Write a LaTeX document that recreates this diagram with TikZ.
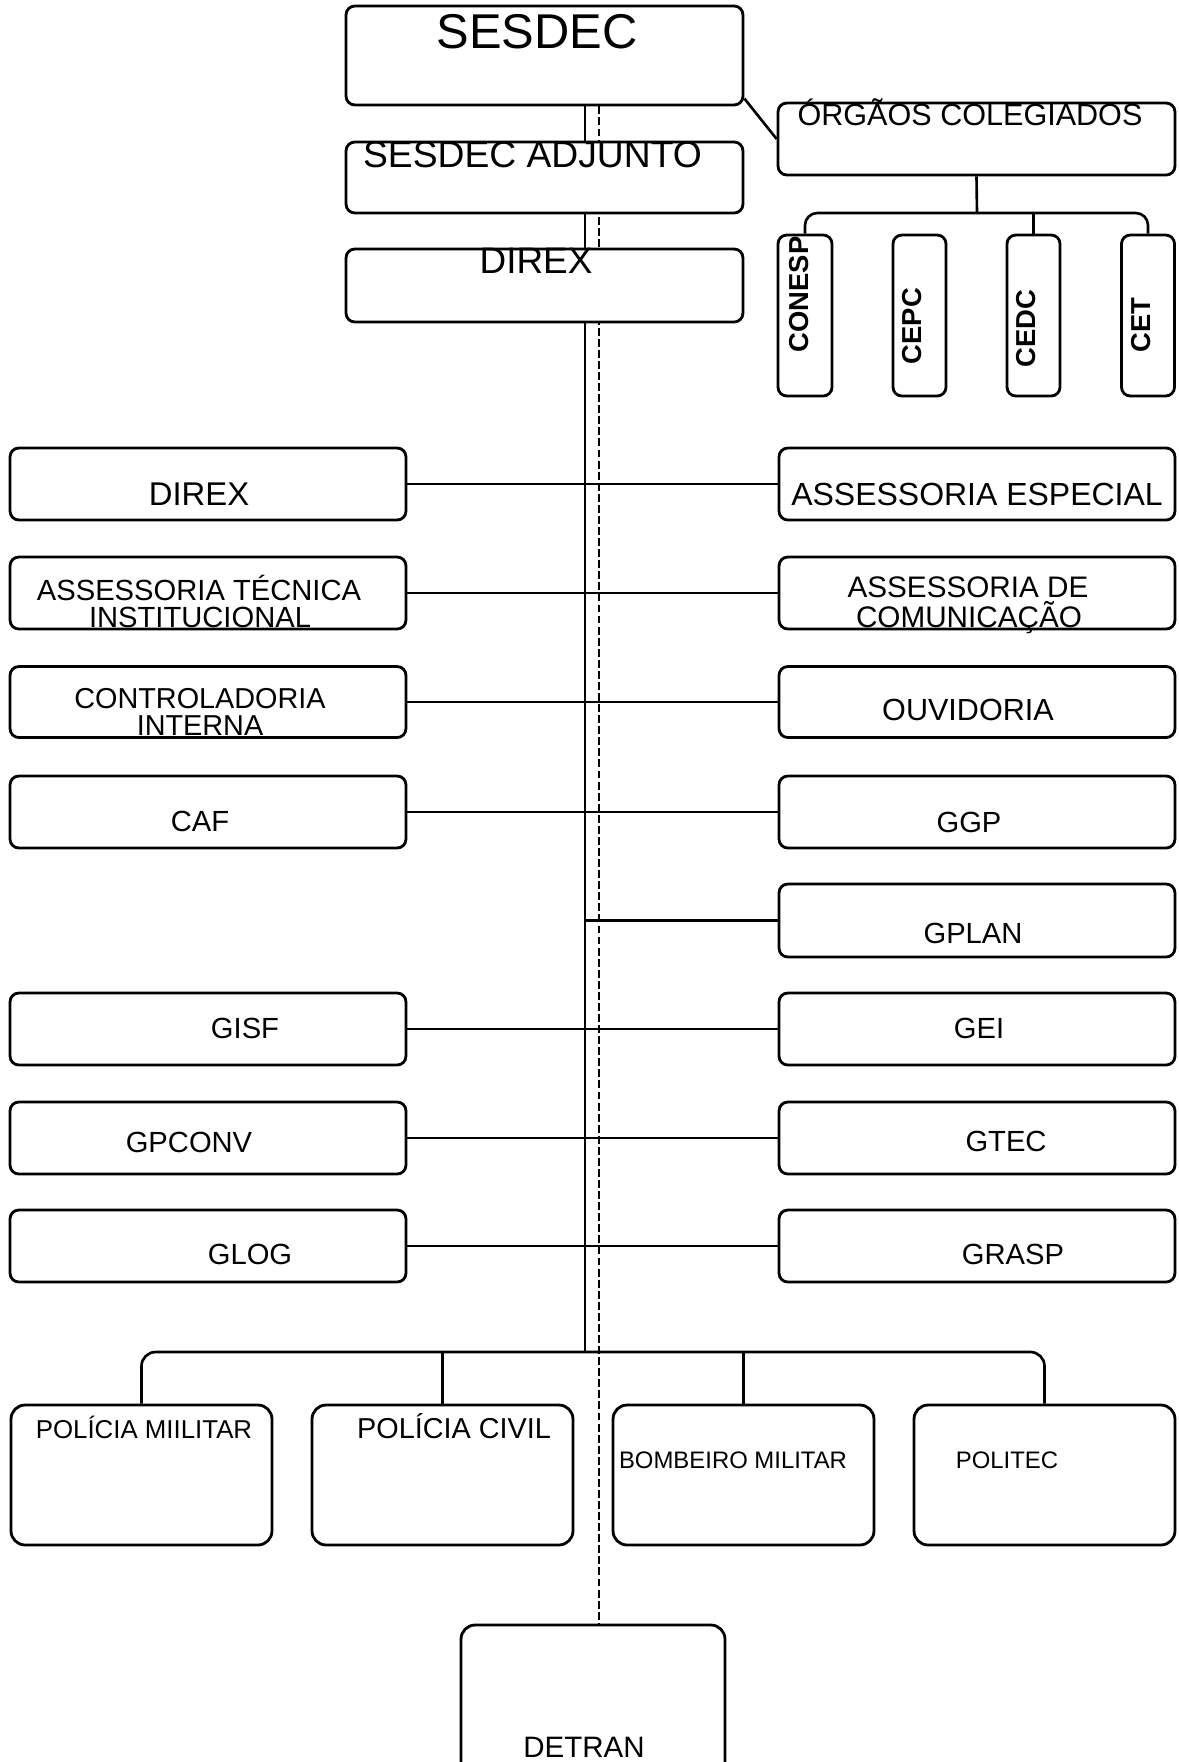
\documentclass[tikz,border=0pt]{standalone}
\usepackage{fontspec}
\setmainfont{Liberation Sans}
\usetikzlibrary{backgrounds}

\newcommand{\fsz}[1]{\fontsize{#1}{#1}\selectfont}

\tikzset{
  unit/.style={draw, line width=1.6pt, rounded corners=5pt, fill=white, inner sep=0pt},
  bigunit/.style={unit, rounded corners=8pt},
  tag/.style={anchor=base, inner sep=0pt},
  link/.style={line width=1.5pt},
  dashlink/.style={line width=1.4pt, dash pattern=on 4.5pt off 1.8pt},
}

\begin{document}
\begin{tikzpicture}[x=0.02cm, y=-0.02cm]
    \useasboundingbox (0,0) rectangle (1179,1762);

    % Top chain
    \node[unit, minimum width=7.94cm, minimum height=1.98cm] (sesdec) at (544.5,55.5) {};
    \node[unit, minimum width=7.94cm, minimum height=1.42cm] (adjunto) at (544.5,177.5) {};
    \node[unit, minimum width=7.94cm, minimum height=1.46cm] (direxTop) at (544.5,285.5) {};
    \node[tag, font=\fsz{27.8}] (sesdecT) at (537,48) {SESDEC};
    \node[tag, font=\fsz{21.2}] (adjuntoT) at (532.5,167) {SESDEC ADJUNTO};
    \node[tag, font=\fsz{21}] (direxTopT) at (536,273) {DIREX};

    % Collegiate bodies
    \node[unit, minimum width=7.94cm, minimum height=1.44cm] (orgaos) at (976.5,139) {};
    \node[tag, font=\fsz{17.4}] (orgaosT) at (970,125) {ÓRGÃOS COLEGIADOS};
    \node[unit, minimum width=1.08cm, minimum height=3.22cm] (conesp) at (805,315.5) {};
    \node[unit, minimum width=1.06cm, minimum height=3.22cm] (cepc) at (919.5,315.5) {};
    \node[unit, minimum width=1.06cm, minimum height=3.22cm] (cedc) at (1033.5,315.5) {};
    \node[unit, minimum width=1.06cm, minimum height=3.22cm] (cet) at (1148,315.5) {};
    \node[rotate=90, inner sep=0pt, font=\bfseries\fsz{15.6}] (conespT) at (799,294.5) {CONESP};
    \node[rotate=90, inner sep=0pt, font=\bfseries\fsz{15.6}] (cepcT) at (912.5,326) {CEPC};
    \node[rotate=90, inner sep=0pt, font=\bfseries\fsz{15.6}] (cedcT) at (1026.5,328.5) {CEDC};
    \node[rotate=90, inner sep=0pt, font=\bfseries\fsz{15.6}] (cetT) at (1141,325) {CET};

    % Left column
    \node[unit, minimum width=7.92cm, minimum height=1.44cm] (direxL) at (208,484) {};
    \node[unit, minimum width=7.92cm, minimum height=1.44cm] (ati) at (208,593) {};
    \node[unit, minimum width=7.92cm, minimum height=1.42cm] (ci) at (208,702) {};
    \node[unit, minimum width=7.92cm, minimum height=1.44cm] (caf) at (208,812) {};
    \node[unit, minimum width=7.92cm, minimum height=1.44cm] (gisf) at (208,1029) {};
    \node[unit, minimum width=7.92cm, minimum height=1.44cm] (gpconv) at (208,1138) {};
    \node[unit, minimum width=7.92cm, minimum height=1.44cm] (glog) at (208,1246) {};
    \node[tag, font=\fsz{18.7}] (direxLT) at (199,505) {DIREX};
    \node[tag, font=\fsz{16.6}] (atiA) at (199,600) {ASSESSORIA TÉCNICA};
    \node[tag, font=\fsz{16.6}] (atiB) at (200,627) {INSTITUCIONAL};
    \node[tag, font=\fsz{16.4}] (ciA) at (200,708) {CONTROLADORIA};
    \node[tag, font=\fsz{16.4}] (ciB) at (200,735) {INTERNA};
    \node[tag, font=\fsz{16.6}] (cafT) at (200,831) {CAF};
    \node[tag, font=\fsz{16.6}] (gisfT) at (245,1038) {GISF};
    \node[tag, font=\fsz{16.6}] (gpconvT) at (189,1152) {GPCONV};
    \node[tag, font=\fsz{16.6}] (glogT) at (250,1264) {GLOG};

    % Right column
    \node[unit, minimum width=7.92cm, minimum height=1.44cm] (assesp) at (977,484) {};
    \node[unit, minimum width=7.92cm, minimum height=1.44cm] (ascom) at (977,593) {};
    \node[unit, minimum width=7.92cm, minimum height=1.42cm] (ouv) at (977,702) {};
    \node[unit, minimum width=7.92cm, minimum height=1.44cm] (ggp) at (977,812) {};
    \node[unit, minimum width=7.92cm, minimum height=1.46cm] (gplan) at (977,920.5) {};
    \node[unit, minimum width=7.92cm, minimum height=1.44cm] (gei) at (977,1029) {};
    \node[unit, minimum width=7.92cm, minimum height=1.44cm] (gtec) at (977,1138) {};
    \node[unit, minimum width=7.92cm, minimum height=1.44cm] (grasp) at (977,1246) {};
    \node[tag, font=\fsz{18.2}] (asespT) at (977,505) {ASSESSORIA ESPECIAL};
    \node[tag, font=\fsz{16.9}] (ascomA) at (968,597) {ASSESSORIA DE};
    \node[tag, font=\fsz{16.9}] (ascomB) at (969,627) {COMUNICAÇÃO};
    \node[tag, font=\fsz{17.4}] (ouvT) at (968,720) {OUVIDORIA};
    \node[tag, font=\fsz{16.6}] (ggpT) at (969,832) {GGP};
    \node[tag, font=\fsz{16.6}] (gplanT) at (973,943) {GPLAN};
    \node[tag, font=\fsz{16.6}] (geiT) at (979,1038) {GEI};
    \node[tag, font=\fsz{16.6}] (gtecT) at (1006,1151) {GTEC};
    \node[tag, font=\fsz{16.6}] (graspT) at (1013,1264) {GRASP};

    % Bottom row
    \node[bigunit, minimum width=5.22cm, minimum height=2.8cm] (pm) at (141.5,1475) {};
    \node[bigunit, minimum width=5.22cm, minimum height=2.8cm] (pc) at (442.5,1475) {};
    \node[bigunit, minimum width=5.22cm, minimum height=2.8cm] (bm) at (743.5,1475) {};
    \node[bigunit, minimum width=5.22cm, minimum height=2.8cm] (politec) at (1044.5,1475) {};
    \node[bigunit, minimum width=5.28cm, minimum height=3.5cm] (detran) at (593,1712.5) {};
    \node[tag, font=\fsz{14.7}] (pmT) at (144,1438) {POLÍCIA MIILITAR};
    \node[tag, font=\fsz{16.4}] (pcT) at (454,1438) {POLÍCIA CIVIL};
    \node[tag, font=\fsz{13.6}] (bmT) at (733,1468) {BOMBEIRO MILITAR};
    \node[tag, font=\fsz{13.6}] (politecT) at (1007,1468) {POLITEC};
    \node[tag, font=\fsz{16.8}] (detranT) at (584,1757) {DETRAN};

    \coordinate (hub) at (585,1352);
    \coordinate (dashtop) at (599,105);
    \coordinate (cbar) at (977,213);

    \begin{scope}[on background layer]
        % Spines
        \draw[link] (sesdec.south -| hub) -- (hub);
        \draw[dashlink] (sesdec.south -| dashtop) -- (dashtop |- detran.north);

        % Collegiate branch
        \draw[link] ([yshift=4.5pt]sesdec.south east) -- (orgaos.west);
        \draw[link] (orgaos.south) -- (cbar);
        \draw[link, rounded corners=7pt] (conesp.north) |- (cbar) -| (cet.north);
        \draw[link] (cedc.north) -- (cedc.north |- cbar);

        % Rows
        \draw[link] (direxL) -- (assesp);
        \draw[link] (ati) -- (ascom);
        \draw[link] (ci) -- (ouv);
        \draw[link] (caf) -- (ggp);
        \draw[link] (gplan.west -| hub) -- (gplan.west);
        \draw[link] (gisf) -- (gei);
        \draw[link] (gpconv) -- (gtec);
        \draw[link] (glog) -- (grasp);

        % Bottom bar
        \draw[link, rounded corners=8pt] (pm.north) -- (pm.north |- hub) -- (politec.north |- hub) -- (politec.north);
        \draw[link] (pc.north) -- (pc.north |- hub);
        \draw[link] (bm.north) -- (bm.north |- hub);
    \end{scope}
\end{tikzpicture}
\end{document}
